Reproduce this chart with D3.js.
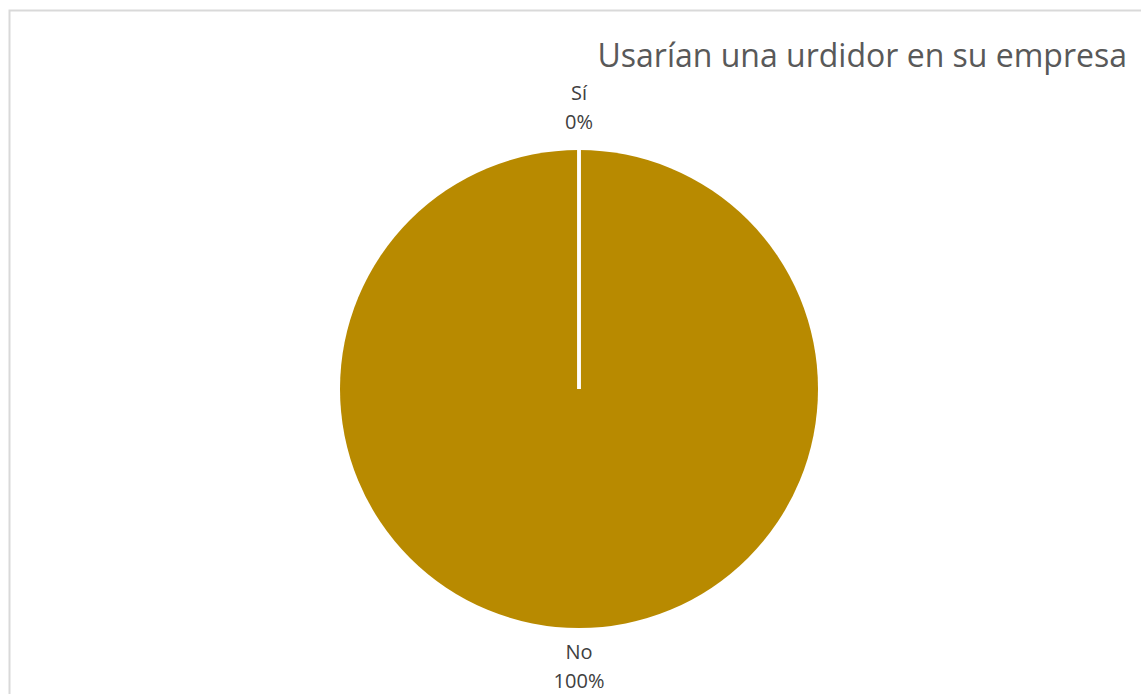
<!DOCTYPE html>
<html>
<head>
<meta charset="utf-8">
<script src="https://cdn.jsdelivr.net/npm/d3@7/dist/d3.min.js"></script>
<style>
  html, body { margin: 0; padding: 0; background: #fff; }
  svg { display: block; }
</style>
</head>
<body>
<svg id="chart" width="1141" height="694"></svg>
<script>
// Survey answers: would they use a warping machine (urdidor) in their company
const categories = ["Sí", "No"];
const values = [0, 100];
const percentLabels = ["0%", "100%"];
const chartTitle = "Usarían una urdidor en su empresa";

const svg = d3.select("#chart");
const W = 1141, H = 694;

// Chart area frame
svg.append("rect")
  .attr("x", 9.5).attr("y", 10.5)
  .attr("width", W + 20).attr("height", H + 20)
  .attr("fill", "#fff")
  .attr("stroke", "#d9d9d9")
  .attr("stroke-width", 2);

// Title
svg.append("text")
  .attr("x", 1127).attr("y", 67)
  .attr("text-anchor", "end")
  .attr("font-family", "'Open Sans', sans-serif")
  .attr("font-size", 32)
  .attr("fill", "#595959")
  .text(chartTitle);

const cx = 579, cy = 389, R = 239;
const fill = "#b88a00";

const pie = d3.pie().sort(null).value(d => d.value);
const data = pie(categories.map((c, i) => ({ name: c, value: values[i], label: percentLabels[i] })));
const arc = d3.arc().innerRadius(0).outerRadius(R);

const g = svg.append("g").attr("transform", `translate(${cx},${cy})`);

g.selectAll("path.slice")
  .data(data)
  .join("path")
  .attr("class", "slice")
  .attr("d", arc)
  .attr("fill", fill);

// Slice borders along each radial edge
g.selectAll("line.edge")
  .data(data)
  .join("line")
  .attr("class", "edge")
  .attr("x1", 0).attr("y1", 0)
  .attr("x2", d => R * Math.sin(d.startAngle))
  .attr("y2", d => -R * Math.cos(d.startAngle))
  .attr("stroke", "#fff")
  .attr("stroke-width", 3.5);

// Data labels outside the pie, at each slice's mid angle
const lineGap = 29;
const labels = g.selectAll("text.lbl")
  .data(data)
  .join("text")
  .attr("class", "lbl")
  .attr("text-anchor", "middle")
  .attr("font-family", "'Open Sans', sans-serif")
  .attr("font-size", 20)
  .attr("fill", "#404040")
  .attr("transform", d => {
    const a = (d.startAngle + d.endAngle) / 2;
    const above = Math.cos(a) > 0;
    const r = above ? R + 21 : R + 31;
    const x = r * Math.sin(a);
    const y = -r * Math.cos(a);
    // first baseline; labels above the pie end with their last line near the edge
    return `translate(${x},${above ? y - lineGap : y})`;
  });

labels.append("tspan").attr("x", 0).attr("y", 0).text(d => d.data.name);
labels.append("tspan").attr("x", 0).attr("y", lineGap).text(d => d.data.label);
</script>
</body>
</html>
